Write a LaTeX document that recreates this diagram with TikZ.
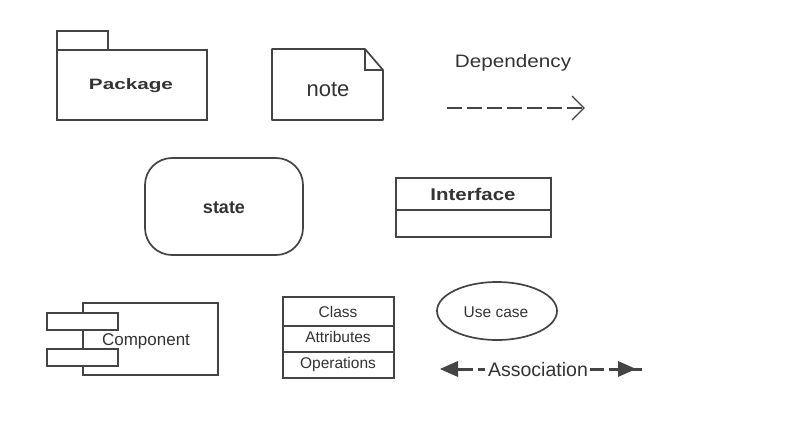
\documentclass[tikz,border=0pt]{standalone}
\usepackage{fontspec}
\setmainfont{Liberation Sans}
\usetikzlibrary{arrows.meta,calc}
\definecolor{ln}{HTML}{444444}
\definecolor{tx}{HTML}{333333}
\tikzset{
  shape line/.style={draw=ln, line width=1.7pt, fill=white},
  lbl/.style={text=tx, inner sep=0pt, anchor=base},
}
\begin{document}
\begin{tikzpicture}[x=1pt,y=-1pt]
\useasboundingbox[fill=white] (0,0) rectangle (789,425);
% Package
\draw[shape line] (57,50) rectangle (108,31);
\draw[shape line] (57,50) rectangle (207,120);
\node[lbl, font=\bfseries\fontsize{15}{17}\selectfont, xscale=1.38] (pkg) at (131,90) {Package};
% note
\draw[shape line, line join=round] (272,49) -- (365,49) -- (383,70) -- (383,120) -- (272,120) -- cycle;
\draw[shape line, fill=none] (365,49) -- (365,70) -- (383,70);
\node[lbl, font=\fontsize{22}{24}\selectfont] (note) at (328,97) {note};
% Dependency
\node[lbl, font=\fontsize{18}{20}\selectfont, xscale=1.15] (dep) at (513,68) {Dependency};
\coordinate (d1) at (447,108);
\coordinate (d2) at (584,108);
\draw[ln, line width=2.6pt, dash pattern=on 15pt off 5pt] (d1) -- (d2);
\draw[ln, line width=1.4pt] ($(d2)+(-12,-12)$) -- (d2) -- ($(d2)+(-12,12)$);
% state
\draw[shape line, rounded corners=27pt] (145,158) rectangle (303,255);
\node[lbl, font=\bfseries\fontsize{18}{20}\selectfont] (state) at (224,213) {state};
% Interface
\draw[shape line] (396,178) rectangle (551,237);
\draw[ln, line width=1.7pt] (396,210) -- (551,210);
\node[lbl, font=\bfseries\fontsize{17}{19}\selectfont, xscale=1.2] (intf) at (473,200) {Interface};
% Component
\draw[shape line] (83,303) rectangle (218,375);
\draw[shape line] (47,313) rectangle (118,330);
\draw[shape line] (47,349) rectangle (118,366);
\node[lbl, font=\fontsize{17}{19}\selectfont] (comp) at (146,345) {Component};
% Class
\draw[shape line] (283,297) rectangle (394,378);
\draw[ln, line width=1.7pt] (283,326) -- (394,326);
\draw[ln, line width=1.7pt] (283,352) -- (394,352);
\node[lbl, font=\fontsize{15.5}{17}\selectfont] (cls) at (338,317) {Class};
\node[lbl, font=\fontsize{15.5}{17}\selectfont] (attr) at (338,342) {Attributes};
\node[lbl, font=\fontsize{15.5}{17}\selectfont] (ops) at (338,368) {Operations};
% Use case
\draw[shape line] (497,311) ellipse [x radius=60, y radius=29];
\node[lbl, font=\fontsize{15.5}{17}\selectfont] (uc) at (496,317) {Use case};
% Association
\node[lbl, font=\fontsize{19.5}{21}\selectfont] (assoc) at (538,376) {Association};
\coordinate (a1) at (440,369);
\coordinate (a2) at (473,369);
\draw[ln, line width=3pt] (456,369) -- (a2);
\fill[ln] (a1) -- (458,361) -- (458,377) -- cycle;
\draw[ln, line width=3pt] (478,369) -- (485,369);
\draw[ln, line width=3pt] (590,369) -- (604,369);
\coordinate (b1) at (609,369);
\coordinate (b2) at (642,369);
\draw[ln, line width=3pt] (b1) -- (b2);
\fill[ln] (636,369) -- (618,361) -- (618,377) -- cycle;
\end{tikzpicture}
\end{document}
